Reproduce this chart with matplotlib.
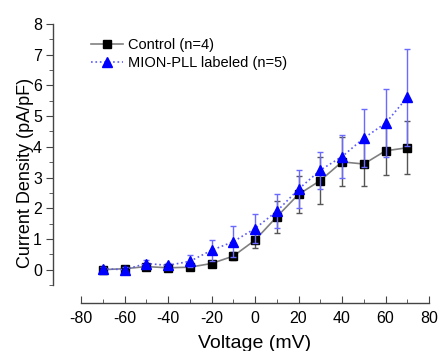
import matplotlib
matplotlib.use("Agg")
import matplotlib.pyplot as plt
from matplotlib.ticker import MultipleLocator

plt.rcParams['font.family'] = ['Liberation Sans', 'DejaVu Sans']
plt.rcParams['axes.unicode_minus'] = False

voltage = [-70, -60, -50, -40, -30, -20, -10, 0, 10, 20, 30, 40, 50, 60, 70]

control = [0.0, 0.03, 0.1, 0.06, 0.08, 0.2, 0.44, 0.96, 1.72, 2.45, 2.9, 3.51, 3.44, 3.87, 3.97]
control_err = [0.05, 0.05, 0.06, 0.05, 0.06, 0.08, 0.12, 0.27, 0.52, 0.6, 0.77, 0.8, 0.72, 0.8, 0.86]

mion = [0.03, 0.0, 0.2, 0.14, 0.27, 0.63, 0.91, 1.34, 1.9, 2.62, 3.24, 3.68, 4.28, 4.77, 5.61]
mion_err = [0.06, 0.08, 0.1, 0.08, 0.2, 0.35, 0.5, 0.48, 0.55, 0.62, 0.6, 0.7, 0.95, 1.1, 1.58]

fig = plt.figure(figsize=(4.4, 3.51), dpi=100)
ax = fig.add_axes([81 / 440, 66 / 351, 348 / 440, 261 / 351])

eb1 = ax.errorbar(voltage, control, yerr=control_err, color='#808080', lw=1.2,
                  marker='s', ms=6, mfc='black', mec='black',
                  ecolor='#555555', elinewidth=1, capsize=2.5, capthick=1,
                  label='Control (n=4)', zorder=3)
eb2 = ax.errorbar(voltage, mion, yerr=mion_err, color='#5a5aff', lw=1.2, ls=':',
                  marker='^', ms=7, mfc='#0000ff', mec='#0000ff',
                  ecolor='#6a6aff', elinewidth=1, capsize=2.5, capthick=1,
                  label='MION-PLL labeled (n=5)', zorder=4)

ax.set_xlim(-80, 80)
ax.set_ylim(-0.5, 8)

for s in ['top', 'right']:
    ax.spines[s].set_visible(False)
ax.spines['left'].set_position(('outward', 20))
ax.spines['bottom'].set_position(('outward', 13))
for s in ['left', 'bottom']:
    ax.spines[s].set_color('#444444')
    ax.spines[s].set_linewidth(1)

ax.xaxis.set_major_locator(MultipleLocator(20))
ax.xaxis.set_minor_locator(MultipleLocator(10))
ax.yaxis.set_major_locator(MultipleLocator(1))
ax.yaxis.set_minor_locator(MultipleLocator(0.5))
ax.tick_params(axis='x', which='both', direction='in', labelsize=11.5, pad=6, color='#444444')
ax.tick_params(axis='y', which='both', direction='out', labelsize=11.5, pad=3, color='#444444')
ax.tick_params(which='major', length=5)
ax.tick_params(which='minor', length=3)

ax.set_xlabel('Voltage (mV)', fontsize=14)
ax.set_ylabel('Current Density (pA/pF)', fontsize=13)
ax.xaxis.set_label_coords(0.5, -0.19)
ax.yaxis.set_label_coords(-0.135, 0.43)

ax.legend(handles=[eb1[0], eb2[0]], labels=['Control (n=4)', 'MION-PLL labeled (n=5)'],
          loc='upper left', bbox_to_anchor=(0.0, 0.985), frameon=False, fontsize=10.5,
          handlelength=2.2, handletextpad=0.3, labelspacing=0.25, borderaxespad=0.3)

fig.savefig('out.png', dpi=100)
